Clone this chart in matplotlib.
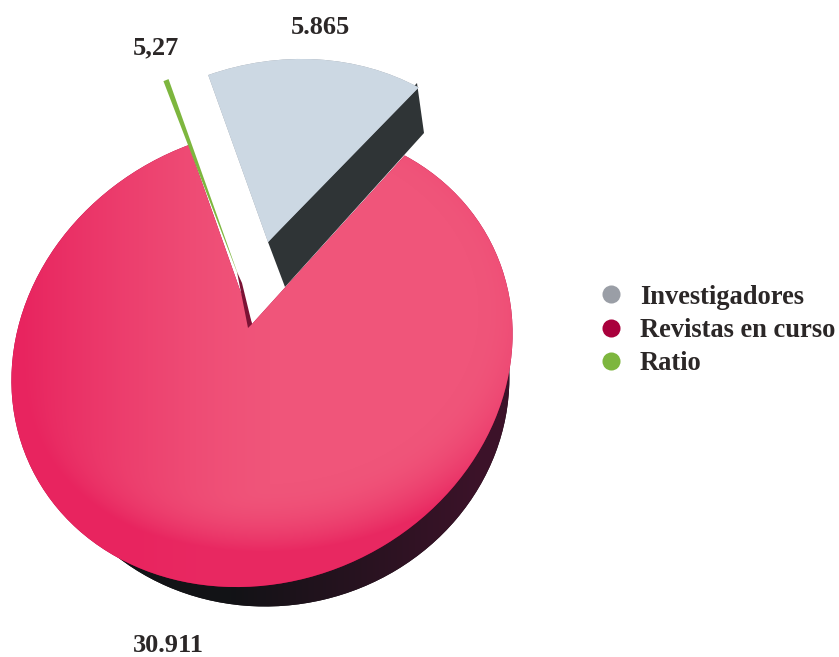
import matplotlib
matplotlib.use("Agg")
import matplotlib.pyplot as plt
import numpy as np
from matplotlib.colors import to_rgb
from matplotlib.lines import Line2D
from matplotlib.patches import PathPatch, Polygon
from matplotlib.path import Path
from matplotlib.transforms import Affine2D

# printed values
categories = ["Investigadores", "Revistas en curso", "Ratio"]
value_labels = ["5.865", "30.911", "5,27"]
legend_colors = ["#9a9ea6", "#a9003c", "#7db63e"]

# slice sizes as the picture draws them (degrees of the tilted disc)
light_size = 50.4
ratio_size = 1.3
red_size = 308.3

W, H = 839, 657
plt.rcParams["font.family"] = ["Liberation Serif", "DejaVu Serif"]

fig = plt.figure(figsize=(W / 100, H / 100), dpi=100)
ax = fig.add_axes([0, 0, 1, 1])


def up(y):
    # reference pixel rows run downwards
    return H - y


def disc(a, b, cx, cy, tilt=25):
    return Affine2D().scale(a, b).rotate_deg(tilt).translate(cx, up(cy))


def place(wedge, T, z, apex=None):
    # move a pie wedge onto the tilted disc, optionally with an off-centre tip
    path = wedge.get_path()
    v = path.vertices.copy()
    if apex is not None:
        v[-2:] = T.inverted().transform((apex[0], up(apex[1])))
    p = PathPatch(Path(v, path.codes), facecolor=wedge.get_facecolor(), edgecolor="none",
                  transform=T + ax.transData, zorder=z)
    ax.add_patch(p)
    wedge.remove()
    return p


def fill_gradient(patch, t, c0, c1, z):
    t = np.clip(t, 0, 1)[..., None]
    img = np.array(to_rgb(c0)) * (1 - t) + np.array(to_rgb(c1)) * t
    im = ax.imshow(img, extent=(0, W, 0, H), origin="lower", aspect="auto", zorder=z,
                   interpolation="bilinear")
    im.set_clip_path(patch)


sizes = [light_size, ratio_size, red_size]
colors = [legend_colors[0], legend_colors[2], legend_colors[1]]
wedges, _ = ax.pie(sizes, colors=colors, startangle=33.1)
# the shadow disc is tilted less, so its gap is turned to stay behind the red slice
shadow_wedges, _ = ax.pie(sizes, colors=["#1a1418"] * 3, startangle=46.1)
shadow_wedges[0].remove()
shadow_wedges[1].remove()

A, B = 256, 224
yy, xx = np.mgrid[0:H, 0:W]
py = H - yy

# base shadow below the red disc
shadow = place(shadow_wedges[2], disc(A * 0.93, B * 0.99, 272, 384, tilt=12), 1, apex=(252, 345))
fill_gradient(shadow, (xx - 230) / 250, "#121316", "#3c1229", 1)

# red slice
red = place(wedges[2], disc(A, B, 262, 357), 2, apex=(252, 324))
side = np.clip((270 - xx) / 250, 0, 1) ** 1.4
rim = np.clip((np.hypot((xx - 262) / 300, (py - up(345)) / 240) - 0.72) / 0.28, 0, 1) ** 2
fill_gradient(red, np.hypot(side, 0.9 * rim), "#f0557a", "#e8245f", 2)

# thin maroon face on the red cut
ax.add_patch(Polygon([(237, up(272)), (242, up(283)), (252, up(324)), (248, up(328))],
                     facecolor="#7b1235", edgecolor="none", zorder=3))

# ratio sliver
place(wedges[1], disc(A * 0.95, B * 0.95, 240, 280, tilt=27), 4)

# side face of the pulled-out slice
ax.add_patch(Polygon([(417, up(83)), (424, up(133)), (285, up(287)), (268, up(242))],
                     facecolor="#2f3436", edgecolor="none", zorder=5))

# pulled-out slice
light = place(wedges[0], disc(A, B, 276, 289), 6, apex=(268, 242))
fill_gradient(light, np.hypot(xx - 270, py - up(200)) / 200, "#e4edf5", "#ccd8e3", 6)

# value labels
label_style = dict(fontsize=19, fontweight="bold", color="#2b2727", ha="center", va="center")
ax.text(320, up(27), value_labels[0], **label_style)
ax.text(168, up(645), value_labels[1], **label_style)
ax.text(156, up(48), value_labels[2], **label_style)

handles = [Line2D([], [], linestyle="none", marker="o", markersize=13, color=c,
                  markeredgecolor="none") for c in legend_colors]
ax.legend(handles, categories, loc="center left", bbox_to_anchor=(594 / W, up(330.5) / H),
          frameon=False, borderpad=0, borderaxespad=0, handlelength=1.3, handletextpad=0.43,
          labelspacing=0.31, labelcolor="#2b2727",
          prop=dict(family="Liberation Serif", size=19.1, weight="bold"))

ax.set_xlim(0, W)
ax.set_ylim(0, H)
ax.set_aspect("auto")
ax.axis("off")
fig.savefig("out.png", dpi=100)
